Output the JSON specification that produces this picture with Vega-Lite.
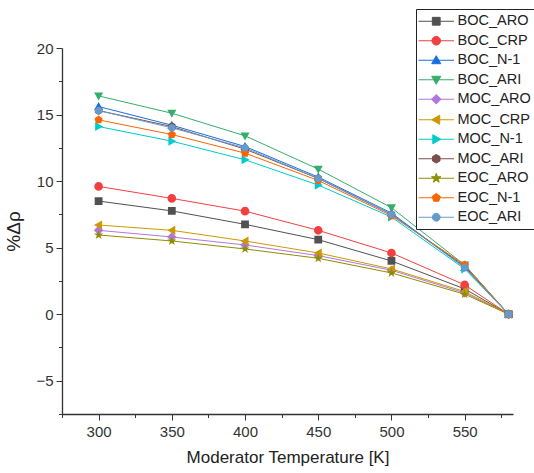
{
  "$schema": "https://vega.github.io/schema/vega-lite/v6.json",
  "width": 451,
  "height": 366,
  "autosize": {"type": "none"},
  "padding": {"left": 62, "top": 48, "right": 21, "bottom": 59},
  "background": "white",
  "config": {
    "view": {"stroke": null},
    "axis": {
      "grid": false,
      "domainColor": "#333333",
      "domainWidth": 1.3,
      "tickColor": "#333333",
      "tickWidth": 1,
      "labelColor": "#333333",
      "labelFont": "Liberation Sans",
      "labelFontSize": 15,
      "titleFont": "Liberation Sans",
      "titleFontWeight": "normal",
      "titleColor": "#222222"
    },
    "legend": {
      "labelFont": "Liberation Sans",
      "labelFontSize": 14.5,
      "labelColor": "#222222",
      "title": null,
      "orient": "none",
      "legendX": 354,
      "legendY": -39,
      "strokeColor": "#222222",
      "fillColor": "white",
      "padding": 5,
      "symbolSize": 75,
      "symbolOffset": 8,
      "labelOffset": 14,
      "rowPadding": 4.5,
      "symbolStrokeWidth": 1
    }
  },
  "data": {
    "values": [
      {"T": 300, "s": "BOC_ARO", "v": 8.5}, {"T": 350, "s": "BOC_ARO", "v": 7.76}, {"T": 400, "s": "BOC_ARO", "v": 6.75}, {"T": 450, "s": "BOC_ARO", "v": 5.6}, {"T": 500, "s": "BOC_ARO", "v": 4.0}, {"T": 550, "s": "BOC_ARO", "v": 1.9}, {"T": 580, "s": "BOC_ARO", "v": 0},
      {"T": 300, "s": "BOC_CRP", "v": 9.6}, {"T": 350, "s": "BOC_CRP", "v": 8.7}, {"T": 400, "s": "BOC_CRP", "v": 7.74}, {"T": 450, "s": "BOC_CRP", "v": 6.3}, {"T": 500, "s": "BOC_CRP", "v": 4.6}, {"T": 550, "s": "BOC_CRP", "v": 2.2}, {"T": 580, "s": "BOC_CRP", "v": 0},
      {"T": 300, "s": "BOC_N-1", "v": 15.6}, {"T": 350, "s": "BOC_N-1", "v": 14.2}, {"T": 400, "s": "BOC_N-1", "v": 12.6}, {"T": 450, "s": "BOC_N-1", "v": 10.3}, {"T": 500, "s": "BOC_N-1", "v": 7.6}, {"T": 550, "s": "BOC_N-1", "v": 3.5}, {"T": 580, "s": "BOC_N-1", "v": 0},
      {"T": 300, "s": "BOC_ARI", "v": 16.4}, {"T": 350, "s": "BOC_ARI", "v": 15.1}, {"T": 400, "s": "BOC_ARI", "v": 13.4}, {"T": 450, "s": "BOC_ARI", "v": 10.9}, {"T": 500, "s": "BOC_ARI", "v": 8.0}, {"T": 550, "s": "BOC_ARI", "v": 3.7}, {"T": 580, "s": "BOC_ARI", "v": 0},
      {"T": 300, "s": "MOC_ARO", "v": 6.3}, {"T": 350, "s": "MOC_ARO", "v": 5.8}, {"T": 400, "s": "MOC_ARO", "v": 5.2}, {"T": 450, "s": "MOC_ARO", "v": 4.4}, {"T": 500, "s": "MOC_ARO", "v": 3.3}, {"T": 550, "s": "MOC_ARO", "v": 1.6}, {"T": 580, "s": "MOC_ARO", "v": 0},
      {"T": 300, "s": "MOC_CRP", "v": 6.7}, {"T": 350, "s": "MOC_CRP", "v": 6.3}, {"T": 400, "s": "MOC_CRP", "v": 5.5}, {"T": 450, "s": "MOC_CRP", "v": 4.6}, {"T": 500, "s": "MOC_CRP", "v": 3.4}, {"T": 550, "s": "MOC_CRP", "v": 1.7}, {"T": 580, "s": "MOC_CRP", "v": 0},
      {"T": 300, "s": "MOC_N-1", "v": 14.1}, {"T": 350, "s": "MOC_N-1", "v": 13.0}, {"T": 400, "s": "MOC_N-1", "v": 11.6}, {"T": 450, "s": "MOC_N-1", "v": 9.7}, {"T": 500, "s": "MOC_N-1", "v": 7.3}, {"T": 550, "s": "MOC_N-1", "v": 3.4}, {"T": 580, "s": "MOC_N-1", "v": 0},
      {"T": 300, "s": "MOC_ARI", "v": 15.3}, {"T": 350, "s": "MOC_ARI", "v": 14.1}, {"T": 400, "s": "MOC_ARI", "v": 12.4}, {"T": 450, "s": "MOC_ARI", "v": 10.2}, {"T": 500, "s": "MOC_ARI", "v": 7.5}, {"T": 550, "s": "MOC_ARI", "v": 3.6}, {"T": 580, "s": "MOC_ARI", "v": 0},
      {"T": 300, "s": "EOC_ARO", "v": 5.95}, {"T": 350, "s": "EOC_ARO", "v": 5.5}, {"T": 400, "s": "EOC_ARO", "v": 4.9}, {"T": 450, "s": "EOC_ARO", "v": 4.2}, {"T": 500, "s": "EOC_ARO", "v": 3.1}, {"T": 550, "s": "EOC_ARO", "v": 1.5}, {"T": 580, "s": "EOC_ARO", "v": 0},
      {"T": 300, "s": "EOC_N-1", "v": 14.6}, {"T": 350, "s": "EOC_N-1", "v": 13.5}, {"T": 400, "s": "EOC_N-1", "v": 12.1}, {"T": 450, "s": "EOC_N-1", "v": 10.05}, {"T": 500, "s": "EOC_N-1", "v": 7.4}, {"T": 550, "s": "EOC_N-1", "v": 3.7}, {"T": 580, "s": "EOC_N-1", "v": 0},
      {"T": 300, "s": "EOC_ARI", "v": 15.3}, {"T": 350, "s": "EOC_ARI", "v": 14.0}, {"T": 400, "s": "EOC_ARI", "v": 12.5}, {"T": 450, "s": "EOC_ARI", "v": 10.2}, {"T": 500, "s": "EOC_ARI", "v": 7.5}, {"T": 550, "s": "EOC_ARI", "v": 3.5}, {"T": 580, "s": "EOC_ARI", "v": 0}
    ]
  },
  "encoding": {
    "x": {
      "field": "T", "type": "quantitative",
      "scale": {"domain": [275, 583], "nice": false, "zero": false},
      "axis": {
        "title": "Moderator Temperature [K]",
        "titleFontSize": 17,
        "titlePadding": 10,
        "values": [275, 300, 325, 350, 375, 400, 425, 450, 475, 500, 525, 550, 575],
        "labelExpr": "datum.value % 50 === 0 ? datum.label : ''",
        "tickSize": {"condition": {"test": "datum.value % 50 === 0", "value": 6}, "value": 3.5},
        "labelPadding": 4
      }
    },
    "y": {
      "field": "v", "type": "quantitative",
      "scale": {"domain": [-7.5, 20], "nice": false},
      "axis": {
        "title": "%Δρ",
        "titleFontSize": 19,
        "titlePadding": 12,
        "values": [-7.5, -5, -2.5, 0, 2.5, 5, 7.5, 10, 12.5, 15, 17.5, 20],
        "labelExpr": "datum.value % 5 === 0 ? datum.label : ''",
        "tickSize": {"condition": {"test": "datum.value % 5 === 0", "value": 6}, "value": 3.5},
        "labelPadding": 3
      }
    },
    "color": {
      "field": "s", "type": "nominal",
      "scale": {
        "domain": ["BOC_ARO", "BOC_CRP", "BOC_N-1", "BOC_ARI", "MOC_ARO", "MOC_CRP", "MOC_N-1", "MOC_ARI", "EOC_ARO", "EOC_N-1", "EOC_ARI"],
        "range": ["#515151", "#F14040", "#1A6FDF", "#37AD6B", "#B177DE", "#CC9900", "#00CBCC", "#7D4E4E", "#8E8E00", "#FB6501", "#6699CC"]
      }
    }
  },
  "layer": [
    {
      "mark": {"type": "line", "strokeWidth": 1}
    },
    {
      "mark": {"type": "point", "filled": false, "strokeWidth": 0, "size": 75, "opacity": 1},
      "encoding": {
        "fill": {
          "field": "s", "type": "nominal",
          "scale": {
            "domain": ["BOC_ARO", "BOC_CRP", "BOC_N-1", "BOC_ARI", "MOC_ARO", "MOC_CRP", "MOC_N-1", "MOC_ARI", "EOC_ARO", "EOC_N-1", "EOC_ARI"],
            "range": ["#515151", "#F14040", "#1A6FDF", "#37AD6B", "#B177DE", "#CC9900", "#00CBCC", "#7D4E4E", "#8E8E00", "#FB6501", "#6699CC"]
          }
        },
        "shape": {
          "field": "s", "type": "nominal",
          "scale": {
            "domain": ["BOC_ARO", "BOC_CRP", "BOC_N-1", "BOC_ARI", "MOC_ARO", "MOC_CRP", "MOC_N-1", "MOC_ARI", "EOC_ARO", "EOC_N-1", "EOC_ARI"],
            "range": [
              "M-4.1,0H4.1M-0.9,-0.9H0.9V0.9H-0.9Z",
              "M-4.1,0H4.1M1,0A1,1 0 1,1 -1,0A1,1 0 1,1 1,0Z",
              "M-4.1,0H4.1M0,-1.05L1.05,0.8H-1.05Z",
              "M-4.1,0H4.1M0,1.05L1.05,-0.8H-1.05Z",
              "M-4.1,0H4.1M0,-1.1L1.1,0L0,1.1L-1.1,0Z",
              "M-4.1,0H4.1M-1.05,0L0.8,-1.05V1.05Z",
              "M-4.1,0H4.1M1.05,0L-0.8,-1.05V1.05Z",
              "M-4.1,0H4.1M0,-1L0.866,-0.5L0.866,0.5L0,1L-0.866,0.5L-0.866,-0.5Z",
              "M-4.1,0H4.1M0,-1.15L0.26,-0.36L1.09,-0.36L0.42,0.14L0.68,0.93L0,0.44L-0.68,0.93L-0.42,0.14L-1.09,-0.36L-0.26,-0.36Z",
              "M-4.1,0H4.1M0,-1L0.951,-0.309L0.588,0.809L-0.588,0.809L-0.951,-0.309Z",
              "M-4.1,0H4.1M0.9,0A0.9,0.9 0 1,1 -0.9,0A0.9,0.9 0 1,1 0.9,0Z"
            ]
          }
        }
      }
    }
  ]
}
